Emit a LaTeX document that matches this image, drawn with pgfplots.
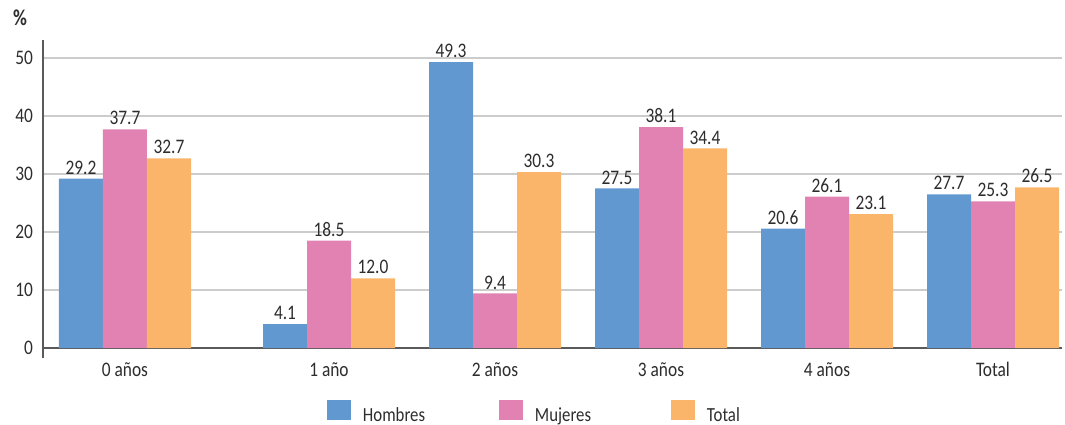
\documentclass[border=0pt]{standalone}
\usepackage{fontspec}
\setmainfont{Carlito}[FakeStretch=0.84]
\usepackage{pgfplots}
\usepackage{pgfplotstable}
\pgfplotsset{compat=1.18}
\definecolor{cH}{RGB}{98,152,208}
\definecolor{cM}{RGB}{225,130,178}
\definecolor{cT}{RGB}{250,181,106}
\definecolor{txt}{RGB}{45,45,45}
\definecolor{gridc}{RGB}{204,204,204}
\definecolor{axl}{RGB}{90,90,90}

% x = group centre (pixel units), y = bar height, lab = printed label
\pgfplotstableread{
x y lab
125 29.2 29.2
329 4.1 4.1
495 49.3 49.3
661 27.5 27.5
827 20.6 20.6
993 26.5 27.7
}\hombres
\pgfplotstableread{
x y lab
125 37.7 37.7
329 18.5 18.5
495 9.4 9.4
661 38.1 38.1
827 26.1 26.1
993 25.3 25.3
}\mujeres
\pgfplotstableread{
x y lab
125 32.7 32.7
329 12.0 12.0
495 30.3 30.3
661 34.4 34.4
827 23.1 23.1
993 27.7 26.5
}\total

\begin{document}
\begin{tikzpicture}
\path[use as bounding box] (-32.25pt,-57.75pt) rectangle (766.5pt,261pt);
\begin{axis}[
  scale only axis,
  width=764.25pt, height=231pt,
  xmin=43, xmax=1062, ymin=0, ymax=53.1,
  clip=false,
  /pgf/number format/assume math mode=true,
  axis x line*=bottom, axis y line*=left,
  axis line style={draw=axl, line width=0.9pt},
  ytick={0,10,20,30,40,50},
  ymajorgrids, grid style={draw=gridc, line width=0.8pt},
  ytick style={draw=none},
  yticklabel style={xshift=-4pt},
  xtick={125,329,495,661,827,993},
  xticklabels={0 años,1 año,2 años,3 años,4 años,Total},
  xtick style={draw=none},
  xticklabel style={yshift=-3pt},
  extra x ticks={207,412,578,743,909},
  extra x tick labels={},
  extra x tick style={grid=none, tick align=inside, major tick length=6pt,
     tick style={draw=axl, line width=0.8pt}},
  tick label style={font=\fontsize{15.5}{17}\selectfont, text=txt},
  ybar, bar width=44,
  nodes near coords={\pgfplotspointmeta},
  point meta=explicit symbolic,
  every node near coord/.append style={font=\fontsize{15.5}{17}\selectfont, text=txt, anchor=south, inner sep=3pt},
  legend columns=3,
  legend style={draw=none, fill=none, at={(rel axis cs:0.2787,-0.206)}, anchor=west,
     inner sep=0pt, outer sep=0pt,
     font=\fontsize{15}{17}\selectfont, text=txt,
     nodes={inner xsep=0pt, inner ysep=0pt, text width=102pt, align=left},
     /tikz/every odd column/.append style={column sep=9pt},
     /tikz/every even column/.append style={column sep=0pt}},
  legend image code/.code={\fill[#1, draw=none] (0pt,-3.5pt) rectangle (18pt,11.5pt);},
]
\addplot[fill=cH, draw=none, bar shift=-44] table[x=x, y=y, meta=lab] {\hombres};
\addplot[fill=cM, draw=none, bar shift=0] table[x=x, y=y, meta=lab] {\mujeres};
\addplot[fill=cT, draw=none, bar shift=44] table[x=x, y=y, meta=lab] {\total};
\legend{Hombres, Mujeres, Total}
\draw[axl, line width=0.9pt] (rel axis cs:0,0) -- ++(0pt,-7.5pt);
\node[font=\fontsize{17}{18}\selectfont\bfseries, text=txt] at (axis cs:20,56.9) {\%};
\end{axis}
\end{tikzpicture}
\end{document}
